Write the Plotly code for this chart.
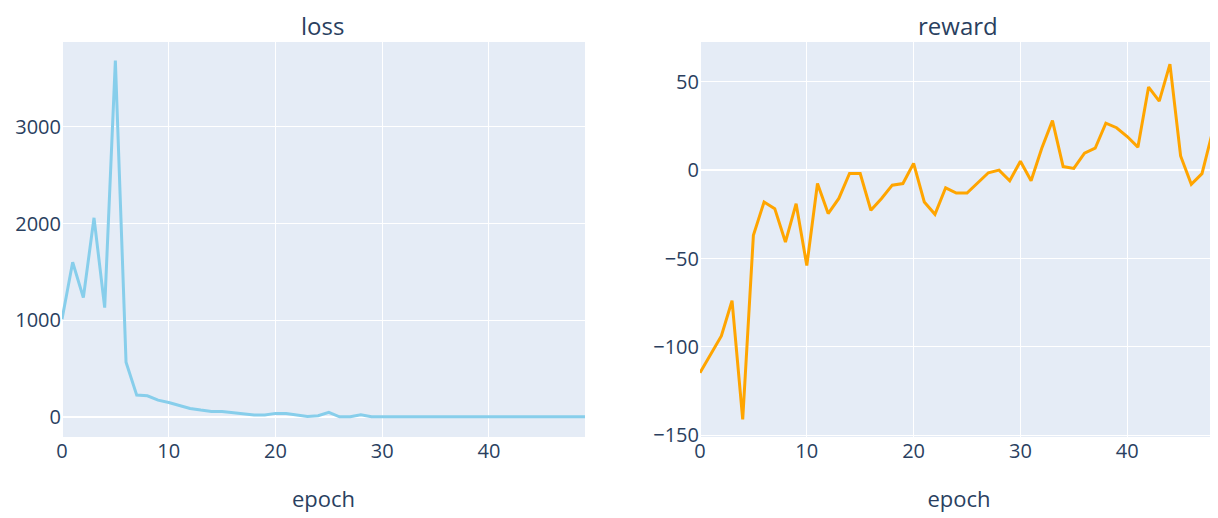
import plotly.graph_objects as go
from plotly.subplots import make_subplots

epochs = list(range(50))
loss = [1010, 1600, 1234, 2059, 1131, 3684, 567, 227, 220, 175,
        150, 117, 89, 72, 58, 58, 48, 38, 21, 21,
        38, 38, 24, 7, 14, 48, 3, 3, 24, 3,
        3, 3, 2, 2, 2, 2, 2, 2, 2, 2,
        2, 2, 2, 2, 2, 2, 2, 2, 2, 2]
reward = [-114.6, -104, -93.8, -73.9, -141, -36.9, -18, -21.8, -40.7, -19,
          -54, -7.6, -24.6, -16, -1.9, -1.9, -22.7, -16, -8.5, -7.6,
          3.8, -18, -25, -10, -13, -13, -7, -1.5, 0, -6,
          5, -6, 12.4, 28, 2, 1, 9.6, 12.4, 26.6, 24,
          19, 13, 47, 39, 60, 8, -8, -2, 22, 18]

fig = make_subplots(rows=1, cols=2, subplot_titles=("loss", "reward"))
fig.add_trace(go.Scatter(x=epochs, y=loss, mode="lines", line=dict(color="skyblue", width=3),
                         showlegend=False), row=1, col=1)
fig.add_trace(go.Scatter(x=epochs, y=reward, mode="lines", line=dict(color="orange", width=3),
                         showlegend=False), row=1, col=2)

fig.update_layout(
    template="plotly",
    width=1210, height=510,
    margin=dict(l=54, r=0, t=34, b=81, autoexpand=False),
    font=dict(size=20),
)
fig.update_xaxes(title_text="epoch", title_font=dict(size=22), tickfont=dict(size=20),
                 title_standoff=28, automargin=False)
fig.update_yaxes(tickfont=dict(size=20), automargin=False)
fig.update_layout(
    xaxis=dict(domain=[0, 0.4524], range=[0, 49], dtick=10),
    xaxis2=dict(domain=[0.5519, 1], range=[0, 48.5], dtick=10),
    yaxis=dict(range=[-206, 3876], dtick=1000),
    yaxis2=dict(range=[-151, 72.5], dtick=50),
)
for a in fig.layout.annotations:
    a.font = dict(size=24, color="#2a3f5f")
    a.yshift = -2

fig.write_html("out.html")
